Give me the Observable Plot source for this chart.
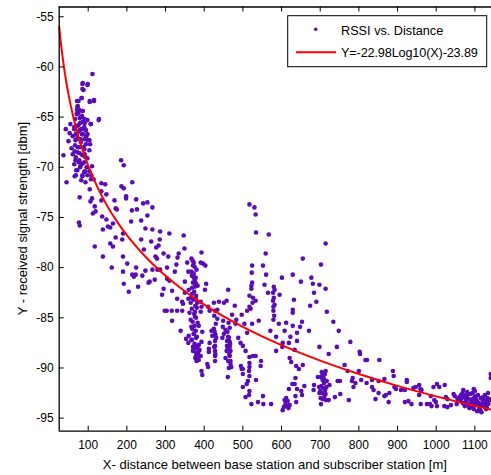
<!DOCTYPE html>
<html>
<head>
<meta charset="utf-8">
<script src="https://cdn.jsdelivr.net/npm/d3@7"></script>
<script src="https://cdn.jsdelivr.net/npm/@observablehq/plot@0.6"></script>
<style>
  html, body { margin: 0; padding: 0; background: #fff; overflow: hidden; }
  #chart { width: 491px; height: 475px; }
</style>
</head>
<body>
<div id="chart"></div>
<script>
// ---- data ----
const xTicks = [100, 200, 300, 400, 500, 600, 700, 800, 900, 1000, 1100];
const yTicks = [-55, -60, -65, -70, -75, -80, -85, -90, -95];
const xLabel = "X- distance between base station and subscriber station [m]";
const yLabel = "Y - received signal strength [dbm]";
const seriesName = "RSSI vs. Distance";
const fitName = "Y=-22.98Log10(X)-23.89";

// measured RSSI samples: [distance m, rssi dBm]
const nearSamples = [
[111,-60.7],[86,-61.6],[99,-61.7],[85,-62.2],[83,-63.1],[115,-63.3],[104,-63.4],[71,-63.4],[73,-63.9],[71,-64.3],
[86,-64.4],[75,-64.6],[84,-64.9],[128,-65.2],[78,-65.1],[54,-65.7],[106,-65.7],[42,-66.2],[64,-66.2],[71,-65.9],
[79,-65.6],[91,-65.6],[82,-66.2],[93,-66.3],[73,-66.5],[52,-66.6],[60,-66.9],[86,-66.7],[95,-66.9],[49,-67.4],
[67,-67.3],[79,-67.2],[99,-67.3],[105,-67.7],[57,-68.1],[73,-68.0],[88,-68.0],[65,-68.4],[36,-68.8],[78,-68.6],
[60,-68.7],[91,-68.7],[93,-69.0],[67,-69.3],[76,-69.5],[86,-69.6],[110,-69.9],[97,-70.0],[79,-70.0],[69,-70.3],
[91,-70.4],[65,-70.9],[85,-70.8],[108,-70.8],[44,-71.5],[82,-71.3],[93,-71.5],[114,-71.2],[134,-71.6],[144,-71.7],
[185,-69.3],[192,-69.8],[186,-71.9],[214,-71.5],[104,-72.2],[134,-72.4],[192,-72.1],[198,-72.9],[198,-73.1],[147,-72.7],
[78,-73.0],[110,-73.1],[106,-73.4],[134,-73.3],[168,-73.3],[224,-73.2],[253,-73.5],[242,-73.6],[117,-73.9],[171,-74.1],
[174,-74.2],[213,-74.3],[226,-74.2],[266,-74.0],[112,-74.6],[136,-74.9],[119,-74.4],[253,-74.8],[237,-75.3],[211,-75.4],
[76,-75.5],[78,-75.8],[147,-75.2],[164,-75.6],[138,-76.2],[151,-75.9],[157,-76.0],[248,-76.1],[266,-76.2],[286,-76.4],
[190,-76.6],[171,-77.0],[188,-77.2],[237,-77.2],[263,-77.4],[285,-77.2],[117,-77.9],[157,-77.6],[164,-77.9],[282,-77.8]
];
const clusterSamples = [
[85,-61.7],[98,-61.8],[88,-62.3],[83,-63.1],[75,-63.4],[104,-63.5],[115,-63.4],[72,-64.0],[77,-64.3],[85,-64.4],
[70,-64.7],[81,-65.0],[90,-65.2],[66,-65.2],[85,-65.5],[98,-65.3],[107,-65.7],[127,-65.3],[75,-65.8],[90,-66.0],
[64,-66.0],[78,-66.3],[94,-66.3],[68,-66.7],[84,-66.7],[98,-66.7],[72,-67.1],[90,-67.2],[103,-67.3],[81,-67.5],
[94,-67.7],[66,-67.8],[77,-68.0],[90,-68.2],[103,-68.3],[72,-68.5],[85,-68.8],[68,-69.0],[98,-69.1],[77,-69.3],
[90,-69.5],[64,-69.7],[81,-69.8],[96,-70.0],[72,-70.3],[90,-70.5],[103,-70.4],[68,-70.8],[85,-70.9],[98,-70.8],[107,-71.2]
];
const midSamples = [
[244,-78.2],[295,-78.6],[138,-78.9],[190,-78.9],[274,-78.9],[278,-79.1],[276,-78.0],[201,-79.6],[224,-80.0],[161,-80.0],
[190,-80.4],[248,-80.3],[266,-80.2],[279,-80.2],[286,-80.2],[214,-80.7],[218,-80.9],[223,-80.7],[240,-80.8],[272,-81.2],
[259,-81.4],[256,-81.5],[192,-81.6],[229,-81.9],[295,-82.1],[205,-82.4],[291,-82.7],[298,-84.3],
[310,-76.6],[347,-76.8],[349,-78.1],[334,-78.6],[331,-79.0],[307,-78.9],[367,-79.1],[393,-78.5],[391,-79.5],[397,-79.6],
[403,-79.8],[328,-79.7],[304,-80.0],[324,-80.4],[356,-79.5],[373,-79.5],[371,-79.8],[359,-80.4],[367,-80.4],[373,-80.6],
[304,-81.1],[310,-81.3],[350,-81.4],[376,-81.3],[379,-81.6],[405,-81.6],[317,-82.3],[402,-82.2],[462,-82.2],[360,-82.2],
[376,-81.9],[350,-82.5],[369,-82.6],[330,-83.1],[359,-83.1],[378,-83.1],[343,-83.4],[345,-83.6],[365,-83.5],[382,-83.5],
[391,-83.4],[393,-83.9],[410,-83.9],[425,-83.5],[438,-83.4],[451,-83.5],[458,-83.3],[479,-83.8],[303,-84.3],[316,-84.3],
[330,-84.3],[343,-84.3],[362,-84.5],[376,-84.4],[391,-84.4],[414,-84.3],[428,-84.3],[434,-84.2],[317,-85.3],[365,-85.2],
[376,-84.9],[434,-85.1],[449,-85.3],[472,-84.7],[483,-85.2],[497,-84.7],[339,-86.3],[367,-85.9],[386,-85.8],[425,-86.1],
[419,-86.3],[448,-85.9],[455,-86.2],[481,-85.6],[360,-86.8],[373,-86.6],[395,-86.4],[421,-86.8],[429,-86.7],[451,-86.6],
[462,-86.9],[353,-87.1],[367,-87.2],[379,-87.0],[414,-87.5],[428,-87.3],[447,-87.0],[459,-87.3],[466,-87.4],[488,-87.0],
[494,-87.5],[359,-87.5],[371,-87.9],[376,-87.8],[382,-87.9],[386,-87.7],[393,-87.4],[428,-87.8],[459,-87.8],[466,-87.9],
[412,-88.1],[371,-88.3],[379,-88.5],[386,-88.3],[412,-88.4],[428,-88.3],[458,-88.3],[468,-88.3],[378,-88.9],[382,-88.9],
[391,-88.8],[428,-88.8],[455,-89.0],[466,-88.8],[428,-89.3],[468,-89.3],[495,-89.8],[497,-90.1],[408,-89.6],[410,-89.9],
[393,-90.3],[395,-90.7],[470,-89.9],[461,-90.9],[500,-91.9],
[370,-79.3],[375,-79.9],[380,-80.2],[368,-80.8],[373,-81.0],[378,-81.0],[371,-81.5],[383,-81.8],[369,-82.0],[374,-82.4],
[379,-82.8],[366,-83.0],[372,-83.2],[377,-83.8],[381,-84.0],[368,-84.1],[374,-84.6],[379,-85.0],[370,-85.4],[383,-85.5],
[375,-85.8],[369,-86.1],[378,-86.3],[373,-86.6],[381,-86.9],[368,-87.2],[375,-87.6],[380,-88.0],[372,-88.2],[384,-88.6],
[377,-89.0],[388,-88.2],[386,-89.2],[380,-89.3],
[463,-85.5],[466,-86.0],[460,-86.4],[464,-87.0],[467,-87.6],[461,-88.0],[465,-88.6],[462,-89.3],[468,-89.6],[464,-90.0],
[426,-84.8],[430,-85.6],[427,-86.4],[431,-87.0],[426,-87.9],[429,-88.6]
];
const farSamples = [
[517,-73.7],[530,-74.0],[533,-74.7],[534,-76.5],[567,-76.7],[559,-78.6],[655,-79.1],[524,-79.8],[552,-79.8],[560,-80.7],
[601,-81.0],[629,-80.7],[677,-81.0],[681,-81.6],[650,-81.4],[556,-81.7],[524,-81.5],[522,-81.8],[522,-82.1],[580,-81.9],
[582,-82.2],[578,-82.5],[565,-82.5],[595,-82.7],[517,-82.8],[526,-83.0],[533,-83.3],[580,-83.0],[578,-83.3],[582,-83.7],
[632,-83.2],[684,-82.5],[690,-83.4],[674,-83.8],[517,-83.9],[511,-84.3],[520,-84.1],[629,-84.2],[629,-84.5],[579,-84.3],
[579,-85.2],[504,-85.6],[541,-85.3],[524,-85.6],[593,-85.6],[612,-85.5],[629,-85.8],[653,-85.4],[648,-85.9],[511,-86.5],
[571,-86.3],[608,-86.3],[640,-86.5],[671,-86.3],[623,-86.9],[586,-86.9],[640,-87.3],[603,-87.5],[619,-87.5],[634,-88.2],
[500,-87.8],[602,-87.9],[586,-88.3],[507,-88.3],[526,-88.8],[517,-88.9],[533,-88.8],[547,-89.3],[621,-89.0],[625,-89.4],
[546,-89.8],[517,-89.5],[517,-89.9],[516,-90.3],[638,-89.8],[655,-89.7],[645,-90.1],[500,-90.1],[500,-90.6],[517,-90.8],
[694,-90.9],[534,-91.2],[513,-91.3],[636,-91.0],[510,-91.6],[634,-91.6],[628,-91.6],[640,-92.1],[619,-92.1],[659,-91.8],
[651,-92.3],[653,-92.7],[636,-92.8],[684,-91.7],[683,-92.2],[517,-92.3],[516,-92.7],[507,-92.9],[552,-92.8],[539,-93.4],
[522,-93.6],[553,-93.6],[573,-93.6],[608,-93.2],[616,-93.3],[610,-93.6],[615,-93.8],[621,-93.7],[638,-93.4],[603,-94.2],
[581,-84.8],[579,-83.9],[523,-80.5],[525,-83.5],[612,-93.0],[618,-94.0],[606,-93.9],
[714,-77.6],[702,-79.7],[698,-81.7],[714,-82.1],[717,-84.4],[734,-85.4],[748,-86.3],[698,-87.9],[778,-87.4],[743,-87.9],
[722,-88.6],[802,-88.4],[803,-88.6],[817,-89.2],[821,-89.2],[853,-89.2],[763,-89.7],[714,-90.3],[771,-90.3],[800,-90.3],
[888,-90.3],[890,-90.8],[705,-90.8],[711,-91.2],[724,-91.7],[745,-91.3],[751,-91.3],[784,-91.0],[782,-91.3],[791,-91.5],
[806,-91.2],[820,-91.5],[834,-91.2],[851,-91.3],[866,-91.1],[786,-91.9],[834,-91.9],[838,-92.2],[851,-92.5],[866,-92.8],
[870,-92.7],[879,-92.5],[892,-91.9],[896,-92.1],[752,-92.6],[738,-92.9],[722,-93.2],[774,-93.2],[843,-93.1],[877,-93.4],
[702,-93.6],[697,-91.9],[698,-92.5],
[702,-90.9],[706,-91.2],[710,-91.5],[703,-91.8],[708,-92.0],[713,-92.2],[700,-92.3],[705,-92.5],[711,-92.8],[716,-91.9],
[701,-93.0],[707,-93.1],[714,-92.6],[709,-91.0],[704,-90.4],[712,-90.6],[717,-91.3],[715,-93.2]
];
const tailSamples = [
[909,-92.2],[919,-92.2],[924,-91.2],[924,-91.4],[941,-92.0],[947,-91.9],[956,-91.7],[959,-92.1],[962,-92.2],[956,-92.7],
[919,-93.4],[928,-93.3],[936,-93.6],[960,-93.6],[976,-93.6],[984,-93.6],[988,-93.8],[986,-92.8],[993,-91.9],[1002,-91.6],
[1008,-91.9],[1022,-91.7],[995,-93.2],[1002,-93.8],[999,-93.4],[1025,-92.9],[1029,-93.1],[1021,-93.8],[1029,-93.9],[1038,-93.7],
[1045,-92.6],[1048,-92.8],[1055,-93.1],[1053,-93.6],[1057,-93.2],[1064,-92.7],[1068,-92.5],[1072,-92.9],[1072,-93.6],[1077,-93.2],
[1083,-92.6],[1085,-93.9],[1097,-92.1],[1094,-92.5],[1094,-93.1],[1098,-93.6],[1103,-92.8],[1107,-93.4],[1111,-93.9],[1114,-94.2],
[1117,-93.7],[1120,-93.2],[1126,-92.7],[1128,-93.6],[1131,-94.0],[1134,-92.5],[1137,-93.1],[1133,-93.4],[1141,-90.6],[1141,-91.0],
[1060,-92.9],[1063,-93.3],[1066,-93.0],[1069,-93.5],[1071,-92.7],[1074,-93.8],[1076,-93.4],[1079,-92.8],[1081,-93.6],[1084,-93.1],
[1086,-94.0],[1088,-92.6],[1090,-93.4],[1092,-93.9],[1095,-93.3],[1097,-94.1],[1099,-92.9],[1101,-93.7],[1104,-93.2],[1106,-94.3],
[1108,-92.7],[1110,-93.5],[1112,-93.9],[1115,-93.0],[1117,-94.4],[1119,-93.6],[1122,-92.9],[1124,-93.8],[1127,-93.3],[1129,-94.1],
[1132,-93.0],[1135,-93.6],[1138,-93.2],[1080,-92.4],[1070,-92.2],[1100,-92.3]
];

// fitted curve (Y = -22.98 log10(X) - 23.89)
const fitDistance = [25, 28, 30, 35, 40, 45, 50, 60, 70, 80, 100, 125, 150, 175, 200, 250, 300, 350, 400, 500, 600, 700, 800, 900, 1000, 1140];
const fitRssi = [-56.01, -57.15, -57.83, -59.37, -60.71, -61.88, -62.93, -64.75, -66.29, -67.62, -69.85, -72.08, -73.90, -75.44, -76.77, -78.99, -80.81, -82.35, -83.69, -85.91, -87.73, -89.27, -90.60, -91.78, -92.83, -94.14];

// ---- build ----
const samples = [...nearSamples, ...clusterSamples, ...midSamples, ...farSamples, ...tailSamples]
  .map(([d, r]) => ({distance: d, rssi: r}));
const fit = fitDistance.map((d, i) => ({distance: d, rssi: fitRssi[i]}));

const W = 491, H = 475;
const mL = 58.7, mT = 6.5, mR = 0, mB = 44.3;
const xDomain = [25, 1143], yDomain = [-96.3, -54.03];
const plotW = W - mL - mR, plotH = H - mT - mB;
const FONT = "'Liberation Sans', Arial, Helvetica, sans-serif";
const dotColor = "#5a0cb6";

const chart = Plot.plot({
  width: W, height: H,
  marginLeft: mL, marginTop: mT, marginRight: mR, marginBottom: mB,
  style: {fontFamily: FONT, fontSize: "12px", background: "#fff", color: "#000", overflow: "visible"},
  x: {domain: xDomain, label: null},
  y: {domain: yDomain, label: null},
  marks: [
    Plot.dot(samples, {x: "distance", y: "rssi", r: 2.3, fill: dotColor, stroke: "none"}),
    Plot.line(fit, {x: "distance", y: "rssi", stroke: "#ff0000", strokeWidth: 2, curve: "monotone-x"}),
    // inward tick marks (MATLAB style)
    Plot.tickX(xTicks, {x: d => d, insetTop: plotH - 5, stroke: "#000", strokeWidth: 1}),
    Plot.tickX(xTicks, {x: d => d, insetBottom: plotH - 5, stroke: "#000", strokeWidth: 1}),
    Plot.tickY(yTicks, {y: d => d, insetRight: plotW - 5, stroke: "#000", strokeWidth: 1}),
    // box lines
    Plot.ruleX([xDomain[0]], {stroke: "#000", strokeWidth: 1.3}),
    Plot.ruleY([yDomain[0], yDomain[1]], {stroke: "#000", strokeWidth: 1.3}),
    Plot.axisX({ticks: xTicks, tickSize: 0, tickPadding: 9.4, tickFormat: d => String(d), label: null, fontSize: 12}),
    Plot.axisY({ticks: yTicks, tickSize: 0, tickPadding: 5.6, tickFormat: d => String(d), label: null, fontSize: 12})
  ]
});

document.getElementById("chart").appendChild(chart);

// axis titles and legend
const svg = d3.select(chart);
svg.append("text")
  .attr("x", (mL + W) / 2).attr("y", 469)
  .attr("text-anchor", "middle")
  .attr("font-family", FONT).attr("font-size", 13).attr("fill", "#000")
  .text(xLabel);
svg.append("text")
  .attr("transform", `translate(26.5,${mT + plotH / 2}) rotate(-90)`)
  .attr("text-anchor", "middle")
  .attr("font-family", FONT).attr("font-size", 13).attr("fill", "#000")
  .text(yLabel);

const lg = svg.append("g").attr("text-anchor", "start");
lg.append("rect")
  .attr("x", 287.7).attr("y", 15.7).attr("width", 199).attr("height", 51)
  .attr("fill", "#fff").attr("stroke", "#000").attr("stroke-width", 1);
lg.append("circle")
  .attr("cx", 315.7).attr("cy", 29.3).attr("r", 1.8).attr("fill", dotColor);
lg.append("line")
  .attr("x1", 296).attr("x2", 336).attr("y1", 52.3).attr("y2", 52.3)
  .attr("stroke", "#ff0000").attr("stroke-width", 2);
lg.append("text")
  .attr("x", 341).attr("y", 34.5)
  .attr("text-anchor", "start")
  .attr("font-family", FONT).attr("font-size", 12.7).attr("fill", "#000")
  .text(seriesName);
lg.append("text")
  .attr("x", 341).attr("y", 57)
  .attr("text-anchor", "start")
  .attr("font-family", FONT).attr("font-size", 12.7).attr("fill", "#000")
  .attr("letter-spacing", -0.15)
  .text(fitName);
</script>
</body>
</html>
